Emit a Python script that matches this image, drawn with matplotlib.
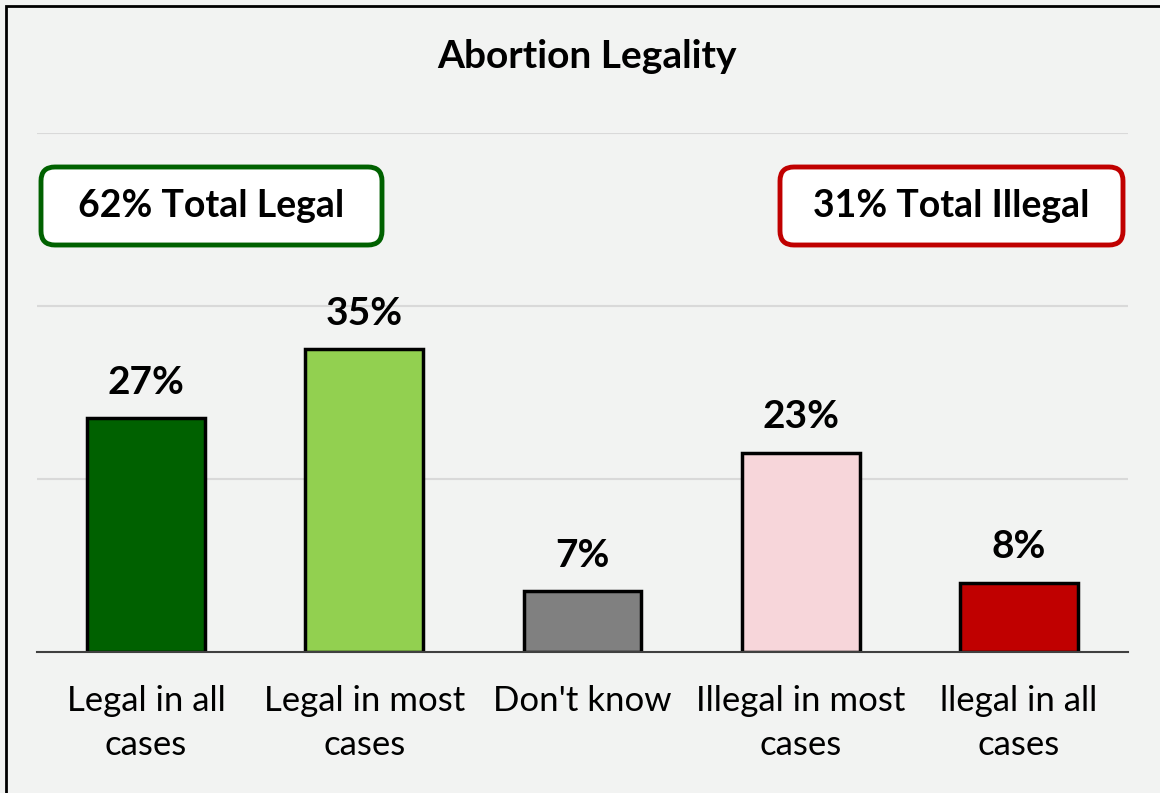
import matplotlib.pyplot as plt
from matplotlib.patches import FancyBboxPatch, Rectangle

plt.rcParams['font.family'] = ['Lato', 'DejaVu Sans']

categories = ["Legal in all\ncases", "Legal in most\ncases", "Don't know",
              "Illegal in most\ncases", "llegal in all\ncases"]
values = [27, 35, 7, 23, 8]
bar_colors = ["#006100", "#92d050", "#808080", "#f7d6da", "#c00000"]
total_legal = 62
total_illegal = 31

bg = "#f2f3f2"
fig = plt.figure(figsize=(11.6, 7.93), dpi=100, facecolor=bg)
ax = fig.add_axes([37 / 1160, 1 - 652 / 793, 1091 / 1160, 519 / 793])
ax.set_facecolor(bg)

x = list(range(len(values)))
bars = ax.bar(x, values, width=0.54, color=bar_colors, edgecolor="black",
              linewidth=2.5, zorder=3)
for b, v in zip(bars, values):
    ax.annotate(f"{v}%", (b.get_x() + b.get_width() / 2, v),
                xytext=(0, 26), textcoords="offset points",
                ha="center", va="center", fontsize=28, fontweight="bold")

ax.set_xlim(-0.5, 4.5)
ax.set_ylim(0, 60)
ax.set_yticks([20, 40, 60])
ax.yaxis.grid(True, color="#d9d9d9", linewidth=1.5, zorder=0)
ax.tick_params(axis="y", left=False, labelleft=False)
ax.tick_params(axis="x", length=0, pad=24, labelsize=25)
ax.set_xticks(x)
ax.set_xticklabels(categories, linespacing=1.45)
for s in ["top", "right", "left"]:
    ax.spines[s].set_visible(False)
ax.spines["bottom"].set_color("#404040")
ax.spines["bottom"].set_linewidth(1.5)
ax.spines["bottom"].set_zorder(4)

fig.text(587 / 1160, 1 - 57 / 793, "Abortion Legality", ha="center",
         va="center", fontsize=28, fontweight="bold")

# summary boxes
def box(x0, y0, x1, y1, color, label):
    p = FancyBboxPatch((x0 / 1160, 1 - y1 / 793), (x1 - x0) / 1160,
                       (y1 - y0) / 793,
                       boxstyle="round,pad=0,rounding_size=0.012",
                       transform=fig.transFigure, facecolor="white",
                       edgecolor=color, linewidth=3.5,
                       mutation_aspect=1160 / 793)
    fig.patches.append(p)
    fig.text((x0 + x1) / 2 / 1160, 1 - (y0 + y1) / 2 / 793, label,
             ha="center", va="center", fontsize=27, fontweight="bold")

box(41, 167, 382, 245, "#006100", f"{total_legal}% Total Legal")
box(780, 167, 1123, 245, "#c00000", f"{total_illegal}% Total Illegal")

fig.patches.append(Rectangle((6 / 1160, -0.1), 1.2, 1 - 6 / 793 + 0.1,
                             transform=fig.transFigure, fill=False,
                             edgecolor="black", linewidth=2))

fig.savefig("out.png", dpi=100, facecolor=bg)
